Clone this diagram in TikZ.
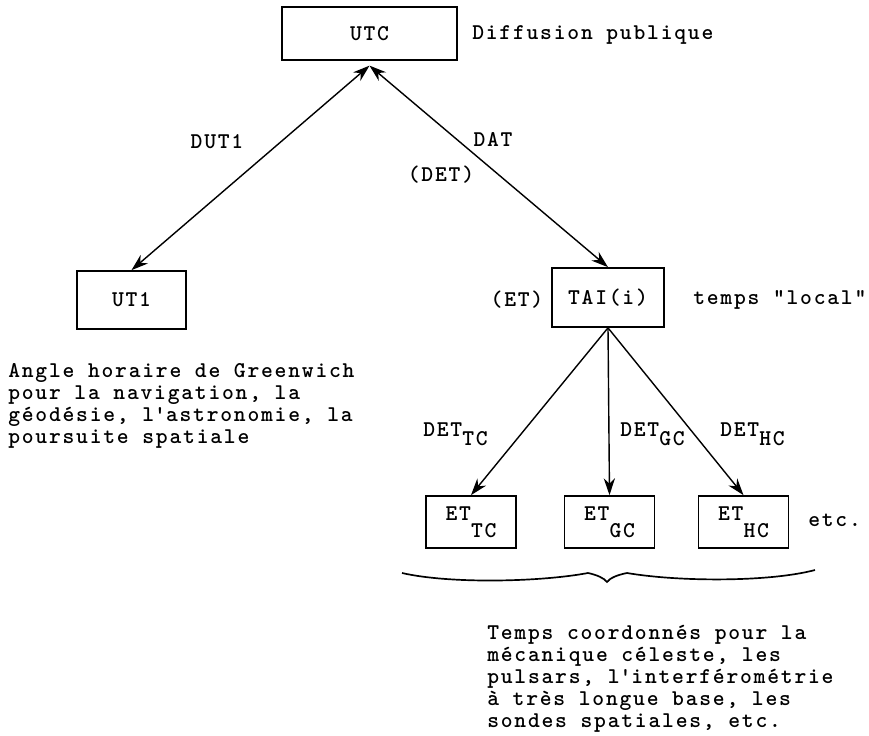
\documentclass[tikz,border=0pt]{standalone}
\usepackage{fontspec}
\newfontfamily\typer[LetterSpace=7.9]{lmmonolt10-bold.otf}
\newcommand{\PixelUnit}{0.025cm}
\newcommand{\TypeFont}{\typer\fontsize{16}{15.7}\selectfont}
\usepackage{tikz}
\usetikzlibrary{positioning, arrows.meta}

\begin{document}
\begin{tikzpicture}[x=\PixelUnit, y=-\PixelUnit,
  every node/.style={font=\TypeFont, inner sep=0pt},
  timebox/.style={draw, line width=1.2pt},
  link/.style={line width=1pt, -{Stealth[length=12pt,width=8pt]}},
  twoway/.style={line width=1pt, {Stealth[length=12pt,width=8pt]}-{Stealth[length=12pt,width=8pt]}}]
\useasboundingbox (0,0) rectangle (869,736);

% boxes
\node[timebox, minimum width=4.375cm, minimum height=1.325cm] (utc) at (369.5,33.5) {UTC};
\node[timebox, minimum width=2.725cm, minimum height=1.45cm] (ut1) at (131.5,300) {UT1};
\node[timebox, minimum width=2.8cm, minimum height=1.475cm] (tai) at (608,297.5) {TAI(i)};
\foreach \x/\name/\sub in {471/ettc/TC, 609.5/etgc/GC, 743.5/ethc/HC}
\node[timebox, minimum width=2.25cm, minimum height=1.3cm] (\name) at (\x,522) {ET\raisebox{-12pt}{\sub}};

% side labels
\node[anchor=west] (diffusion) at (472,35) {Diffusion publique};
\node[anchor=west] (local) at (693,300) {temps "local"};
\node (et) at (517,300) {(ET)};
\node[anchor=west] (etc) at (808,520) {etc.};

% labels on the arrows
\node (dut) at (217,142) {DUT1};
\node (dat) at (493,139) {DAT};
\node (det) at (441,175) {(DET)};
\foreach \x/\name/\sub in {423/dettc/TC, 620/detgc/GC, 720/dethc/HC}
\node[anchor=base west] (\name) at (\x,436) {DET\raisebox{-7pt}{\sub}};

% arrows
\draw[twoway] ([yshift=-0.12cm]utc.south) -- (ut1.north);
\draw[twoway] ([yshift=-0.12cm]utc.south) -- (tai.north);
\foreach \name in {ettc,etgc,ethc}
\draw[link] (tai.south) -- (\name.north);

% brace
\draw[line width=1.2pt] (402,573) .. controls (450,584) and (540,582) .. (588,573)
  .. controls (597,575) and (604,578) .. (607,582)
  .. controls (610,578) and (617,575) .. (627,573)
  .. controls (680,582) and (770,582) .. (815,570);

% notes
\node[anchor=west, align=left] (ut1note) at (8,406) {Angle horaire de Greenwich\\pour la navigation, la\\géodésie, l\textquotesingle astronomie, la\\poursuite spatiale};
\node[anchor=west, align=left] (etnote) at (487,678.5) {Temps coordonnés pour la\\mécanique céleste, les\\pulsars, l\textquotesingle interférométrie\\à très longue base, les\\sondes spatiales, etc.};
\end{tikzpicture}
\end{document}
